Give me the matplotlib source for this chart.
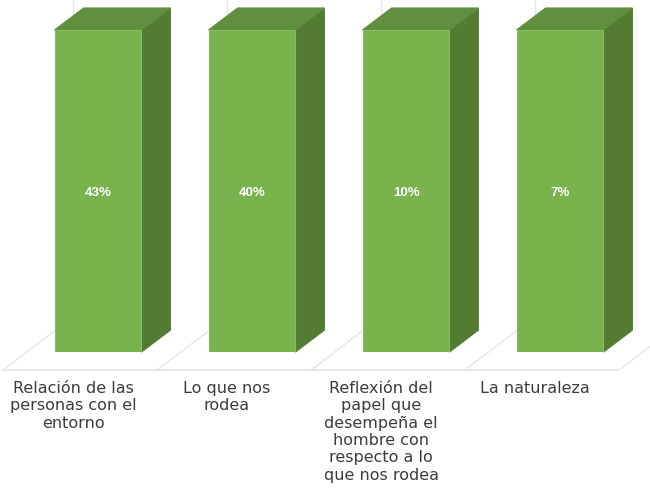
import matplotlib
matplotlib.use('Agg')
import matplotlib.pyplot as plt
from matplotlib.patches import Polygon

# Etiquetas de las categorias
labels = ['Relación de las\npersonas con el\nentorno',
          'Lo que nos\nrodea',
          'Reflexión del\npapel que\ndesempeña el\nhombre con\nrespecto a lo\nque nos rodea',
          'La naturaleza']
percent = [43, 40, 10, 7]
# all the columns are drawn full height in the picture
heights = [100, 100, 100, 100]

front_color = '#78B34E'
top_color = '#608F3F'
side_color = '#537B32'
grid_color = '#E6E6E6'
text_color = '#3C3C3C'

W, H = 650, 489
fig = plt.figure(figsize=(W / 100, H / 100), dpi=100)
ax = fig.add_axes([21 / W, (H - 353) / H, 616 / W, 322 / H])
ax.set_xlim(-0.5, 3.5)
ax.set_ylim(0, 100)

bar_w = 0.562
depth_x = 0.188
depth_y = 6.8
x = range(len(heights))

# suelo y paredes del grafico 3D
floor_y = -5.6
ax.plot([-0.617, 3.37], [floor_y, floor_y], color=grid_color, lw=1.5, clip_on=False, zorder=1)
for i in range(5):
    ax.plot([i - 0.617, i - 0.162], [floor_y, 10.9], color=grid_color, lw=1, clip_on=False, zorder=1)
for i in x:
    ax.plot([i - 0.162, i - 0.162], [10.9, 115], color=grid_color, lw=1, clip_on=False, zorder=1)

bars = ax.bar(x, heights, width=bar_w, color=front_color, edgecolor='#86BC62', linewidth=0.8, zorder=3)

# caras lateral y superior
for b in bars:
    x0, x1 = b.get_x(), b.get_x() + b.get_width()
    y1 = b.get_height()
    ax.add_patch(Polygon([(x1, 0), (x1 + depth_x, depth_y), (x1 + depth_x, y1 + depth_y), (x1, y1)],
                         closed=True, color=side_color, clip_on=False, zorder=2))
    ax.add_patch(Polygon([(x0, y1), (x0 + depth_x, y1 + depth_y), (x1 + depth_x, y1 + depth_y), (x1, y1)],
                         closed=True, color=top_color, clip_on=False, zorder=2))

for b, p in zip(bars, percent):
    ax.text(b.get_x() + b.get_width() / 2, b.get_height() / 2 - 0.3, str(p) + '%', color='white',
            ha='center', va='center', fontsize=9.5, fontweight='bold', family='Liberation Sans', zorder=4)

ax.set_xticks([i - 0.162 for i in x])
ax.set_xticklabels(labels, fontsize=11.5, color=text_color, family='DejaVu Sans', linespacing=1.2)
ax.tick_params(axis='x', length=0, pad=20)
ax.set_yticks([])
for s in ax.spines.values():
    s.set_visible(False)

fig.savefig('out.png', dpi=100)
